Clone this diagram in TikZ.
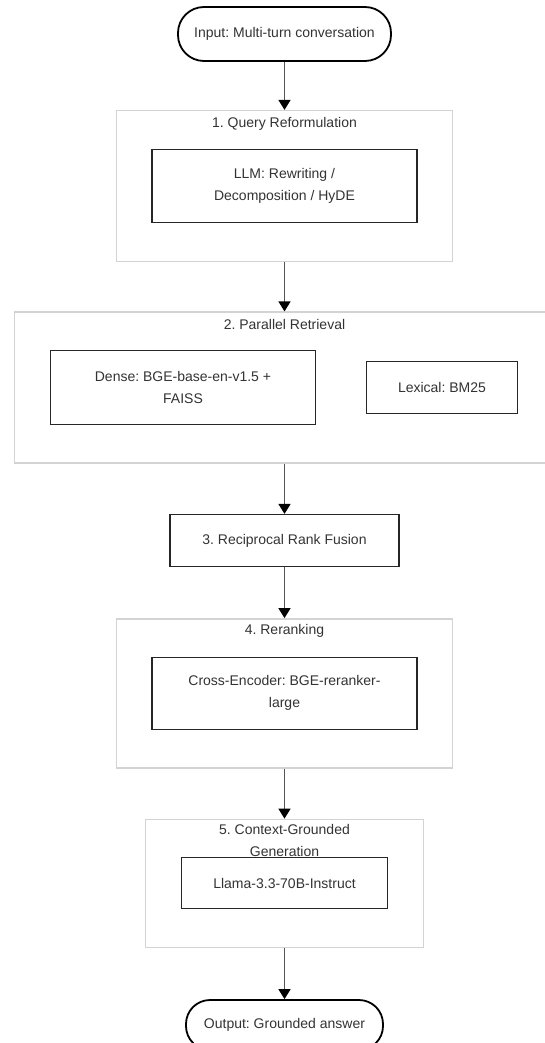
\documentclass[tikz,border=0pt]{standalone}
\usepackage{fontspec}
\setmainfont{Liberation Sans}
\frenchspacing
\usetikzlibrary{arrows.meta, positioning}
\definecolor{stageborder}{HTML}{D3D3D3}
\definecolor{flowline}{HTML}{555555}
\definecolor{labeltext}{HTML}{333333}

\begin{document}
\begin{tikzpicture}[
    x=1pt, y=1pt,
    every node/.style={
        font=\fontsize{14}{22}\selectfont,
        text=labeltext
    },
    terminal/.style={
        draw=black,
        line width=1.8pt,
        rounded corners=26pt,
        minimum height=54pt
    },
    stage/.style={
        draw=stageborder,
        line width=1.5pt,
        fill=white
    },
    stagetitle/.style={
        inner sep=0pt,
        text height=10pt,
        text depth=3pt,
        align=center
    },
    toolbox/.style={
        draw=black!85,
        line width=1.2pt,
        align=center
    },
    flow/.style={
        -{Triangle[length=10pt, width=12pt, color=black]},
        line width=1.6pt,
        flowline
    }
]
    \useasboundingbox (-284.5,34) rectangle (260.5,-1009);

    \node[terminal, minimum width=213pt] (input) at (0,0) {Input: Multi-turn conversation};

    \node[stage, minimum width=336pt, minimum height=151pt, below=48pt of input] (queryStage) {};
    \node[stagetitle, below=7pt of queryStage.north] (queryTitle) {1. Query Reformulation};
    \node[toolbox, minimum width=265pt, minimum height=73pt] (rewriteBox) at (queryStage.center)
        {LLM: Rewriting /\\Decomposition / HyDE};

    \node[stage, minimum width=540pt, minimum height=151pt, below=49pt of queryStage] (retrievalStage) {};
    \node[stagetitle, below=8pt of retrievalStage.north] (retrievalTitle) {2. Parallel Retrieval};
    \node[toolbox, minimum width=265pt, minimum height=74pt] (denseBox) at ([xshift=-101.5pt]retrievalStage.center)
        {Dense: BGE-base-en-v1.5 +\\FAISS};
    \node[toolbox, minimum width=151pt, minimum height=52pt] (lexicalBox) at ([xshift=157.5pt]retrievalStage.center)
        {Lexical: BM25};

    \node[toolbox, minimum width=229pt, minimum height=52pt, below=50pt of retrievalStage] (fusionBox)
        {3. Reciprocal Rank Fusion};

    \node[stage, minimum width=336pt, minimum height=149pt, below=51pt of fusionBox] (rerankStage) {};
    \node[stagetitle, below=6pt of rerankStage.north] (rerankTitle) {4. Reranking};
    \node[toolbox, minimum width=265pt, minimum height=72pt] (crossBox) at (rerankStage.center)
        {Cross-Encoder: BGE-reranker-\\large};

    \node[stage, minimum width=278pt, minimum height=128pt, below=50pt of rerankStage] (generationStage) {};
    \node[stagetitle, text height=32pt, below=6pt of generationStage.north] (generationTitle)
        {5. Context-Grounded\\Generation};
    \node[toolbox, minimum width=206pt, minimum height=51pt] (llamaBox) at (generationStage.center)
        {Llama-3.3-70B-Instruct};

    \node[terminal, minimum width=197pt, minimum height=50pt, rounded corners=24pt, below=51pt of generationStage] (output)
        {Output: Grounded answer};

    \draw[flow] (input) -- (queryStage);
    \draw[flow] (queryStage) -- (retrievalStage);
    \draw[flow] (retrievalStage) -- (fusionBox);
    \draw[flow] (fusionBox) -- (rerankStage);
    \draw[flow] (rerankStage) -- (generationStage);
    \draw[flow] (generationStage) -- (output);
\end{tikzpicture}
\end{document}
